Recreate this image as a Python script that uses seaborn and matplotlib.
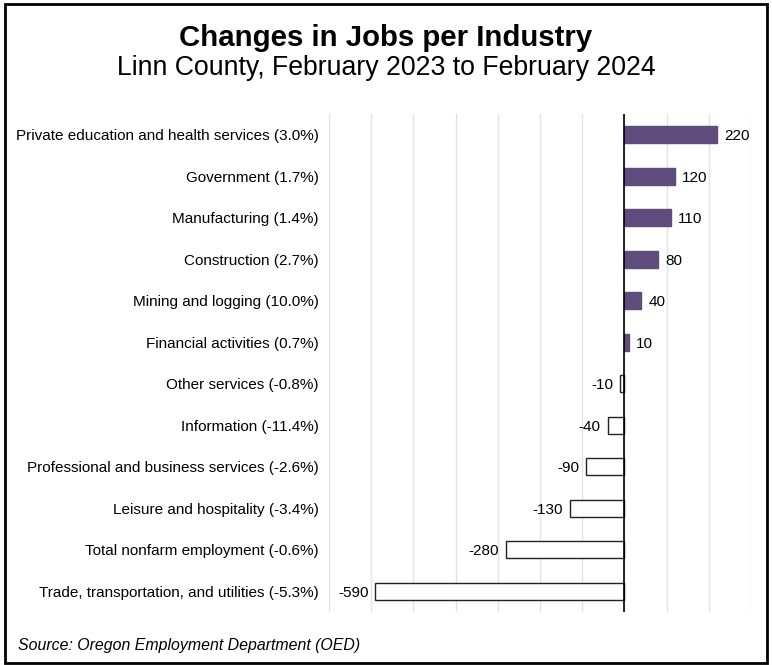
import matplotlib
matplotlib.use("Agg")
import matplotlib.pyplot as plt
import seaborn as sns
import pandas as pd
from matplotlib.patches import Rectangle

INDUSTRIES = [
    "Private education and health services (3.0%)",
    "Government (1.7%)",
    "Manufacturing (1.4%)",
    "Construction (2.7%)",
    "Mining and logging (10.0%)",
    "Financial activities (0.7%)",
    "Other services (-0.8%)",
    "Information (-11.4%)",
    "Professional and business services (-2.6%)",
    "Leisure and hospitality (-3.4%)",
    "Total nonfarm employment (-0.6%)",
    "Trade, transportation, and utilities (-5.3%)",
]
CHANGES = [220, 120, 110, 80, 40, 10, -10, -40, -90, -130, -280, -590]

PURPLE = "#5F4B7C"

sns.set_theme(style="white")
plt.rcParams["font.family"] = ["Liberation Sans", "DejaVu Sans"]
plt.rcParams["text.color"] = "black"

df = pd.DataFrame({"industry": INDUSTRIES, "change": CHANGES})

fig = plt.figure(figsize=(7.72, 6.65), dpi=100)
ax = fig.add_axes([0.4262, 0.0797, 0.5466, 0.7489])

sns.barplot(data=df, x="change", y="industry", orient="h", width=0.4,
            color=PURPLE, ax=ax, zorder=3)

# purple fill for gains, white with dark outline for losses
for patch, val in zip(ax.patches, CHANGES):
    if val >= 0:
        patch.set_facecolor(PURPLE)
        patch.set_edgecolor(PURPLE)
    else:
        patch.set_facecolor("white")
        patch.set_edgecolor("#222222")
    patch.set_linewidth(1.0)

texts = ax.bar_label(ax.containers[0], labels=[str(v) for v in CHANGES],
                     padding=5, fontsize=11, color="black")
for t in texts:
    t.set_va("center_baseline")

ax.set_xlim(-700, 300)
ax.set_xticks(range(-700, 301, 100))
ax.xaxis.grid(True, color="#E2E2E2", linewidth=1, zorder=0)
ax.yaxis.grid(False)
ax.axvline(0, color="black", linewidth=1.2, zorder=4)
ax.tick_params(axis="x", length=0, labelbottom=False)
ax.tick_params(axis="y", length=0, labelsize=11, pad=7.5, labelcolor="black")
ax.set_xlabel("")
ax.set_ylabel("")
sns.despine(ax=ax, left=True, bottom=True)

fig.text(0.5, 0.9313, "Changes in Jobs per Industry", ha="center", va="baseline",
         fontsize=21.2, fontweight="bold")
fig.text(0.5, 0.8872, "Linn County, February 2023 to February 2024",
         ha="center", va="baseline", fontsize=19.2)
fig.text(0.023, 0.030, "Source: Oregon Employment Department (OED)",
         ha="left", va="center", fontsize=11.4, style="italic")

fig.patches.append(Rectangle((0.006, 0.003), 0.988, 0.991, transform=fig.transFigure,
                             fill=False, edgecolor="black", linewidth=2))

fig.savefig("out.png", dpi=100)
